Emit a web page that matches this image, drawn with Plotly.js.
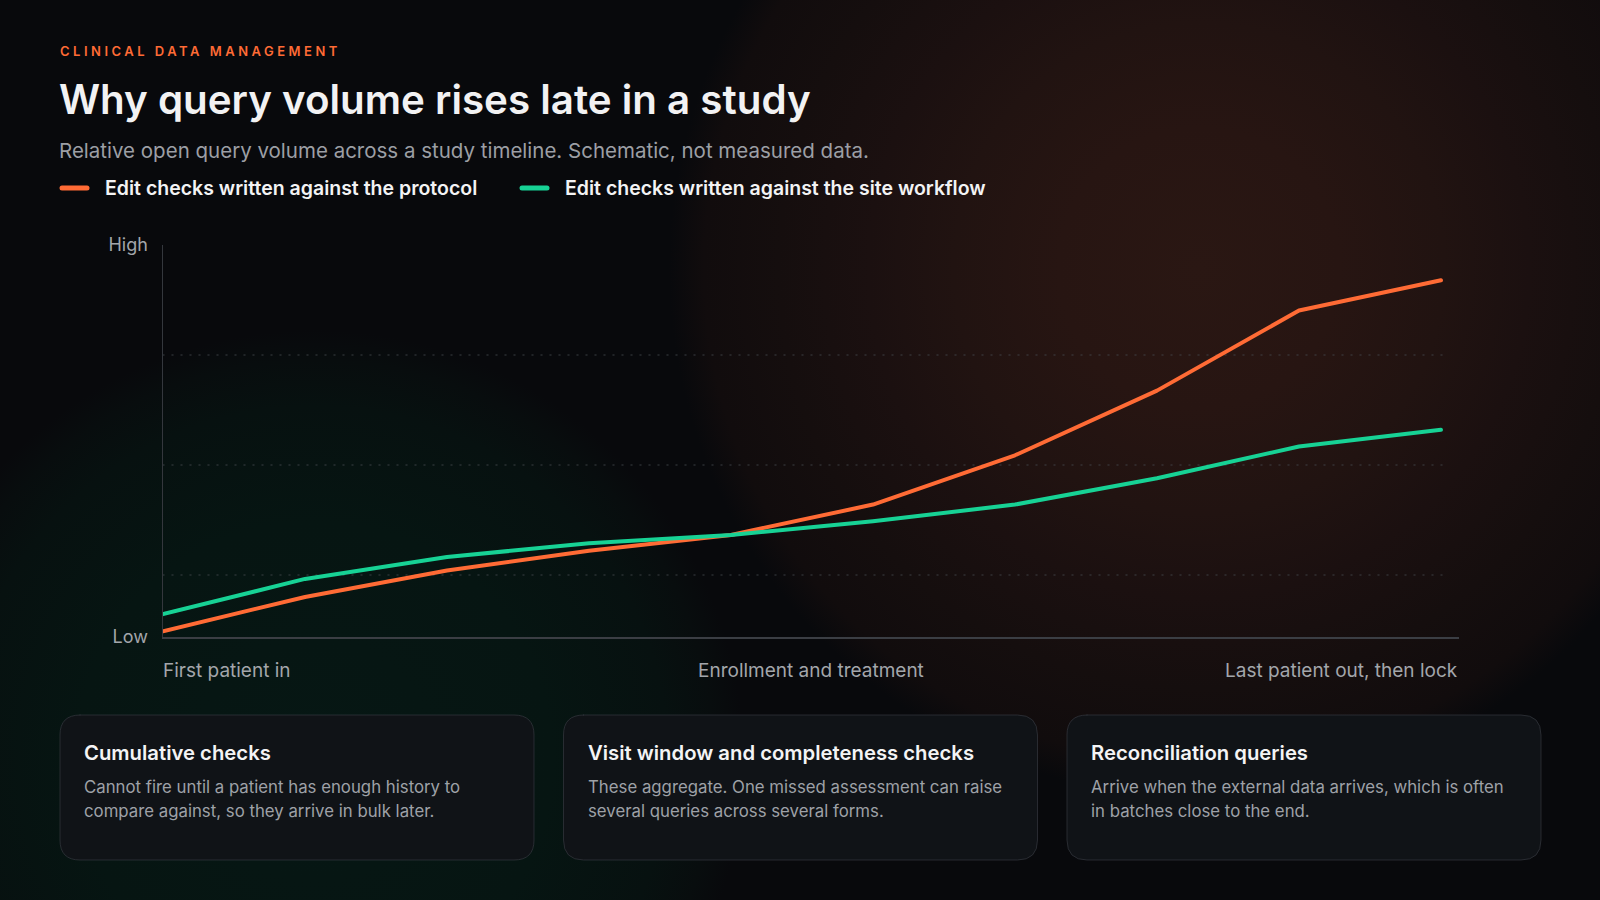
<!DOCTYPE html>
<html>
<head>
<meta charset="utf-8">
<script src="https://cdn.plot.ly/plotly-3.0.1.min.js"></script>
<style>
  html, body { margin: 0; padding: 0; background: #08090c; overflow: hidden; }
  #chart {
    width: 1600px; height: 900px;
    background:
      radial-gradient(circle at 1199px 268px,
        rgb(42,23,19) 0px, rgb(39,21,18) 140px, rgb(33,19,17) 245px,
        rgb(27,16,16) 330px, rgb(21,14,14) 420px, rgb(17,12,13) 495px, rgba(8,9,12,0) 530px),
      radial-gradient(circle at 314px 760px,
        rgb(6,23,20) 0px, rgb(6,21,18) 238px, rgb(7,17,16) 354px,
        rgb(8,13,14) 400px, rgba(8,9,12,0) 430px),
      #08090c;
  }
  .shapelayer path { stroke-linecap: round; }
  .scatterlayer path.js-line { stroke-linecap: round; stroke-linejoin: round; }
  .annotation[data-index="0"] .annotation-text { letter-spacing: 3.5px; }
</style>
</head>
<body>
<div id="chart"></div>
<script>
// ---------------- data ----------------
const stage = [0, 1, 2, 3, 4, 5, 6, 7, 8, 9];
const protocolChecks = [12.2, 20, 26, 30.5, 34.1, 41, 52.2, 66.9, 85.1, 92];
const workflowChecks = [16.1, 24.1, 29.1, 32.2, 34.1, 37.2, 41, 47, 54.2, 58];
const seriesNames = ["Edit checks written against the protocol", "Edit checks written against the site workflow"];
const seriesColors = ["#ff6b35", "#17d295"];
const yTickVals = [10.9, 100];
const yTickText = ["Low", "High"];
const gridValues = [25, 50, 75];
const xLabels = ["First patient in", "Enrollment and treatment", "Last patient out, then lock"];
const cardTitles = ["Cumulative checks", "Visit window and completeness checks", "Reconciliation queries"];
const cardLines = [
  ["Cannot fire until a patient has enough history to", "compare against, so they arrive in bulk later."],
  ["These aggregate. One missed assessment can raise", "several queries across several forms."],
  ["Arrive when the external data arrives, which is often", "in batches close to the end."]
];
const eyebrow = "CLINICAL DATA MANAGEMENT";
const titleText = "Why query volume rises late in a study";
const subtitleText = "Relative open query volume across a study timeline. Schematic, not measured data.";

// ---------------- geometry helpers (pixel -> paper) ----------------
const L = 163, R = 1459, T = 245, B = 637;
const px = v => (v - L) / (R - L);
const py = v => (B - v) / (B - T);
const FONT = "Inter, 'Noto Sans', sans-serif";

function roundRect(x0, y0, x1, y1, r) {
  const P = (x, y) => px(x).toFixed(5) + "," + py(y).toFixed(5);
  return "M" + P(x0 + r, y0) + " L" + P(x1 - r, y0) + " Q" + P(x1, y0) + " " + P(x1, y0 + r) +
    " L" + P(x1, y1 - r) + " Q" + P(x1, y1) + " " + P(x1 - r, y1) +
    " L" + P(x0 + r, y1) + " Q" + P(x0, y1) + " " + P(x0, y1 - r) +
    " L" + P(x0, y0 + r) + " Q" + P(x0, y0) + " " + P(x0 + r, y0) + " Z";
}

// ---------------- traces ----------------
const traces = [
  { x: stage, y: protocolChecks, name: seriesNames[0], type: "scatter", mode: "lines",
    line: { color: seriesColors[0], width: 4 }, hoverinfo: "skip" },
  { x: stage, y: workflowChecks, name: seriesNames[1], type: "scatter", mode: "lines",
    line: { color: seriesColors[1], width: 4 }, hoverinfo: "skip" }
];

// ---------------- shapes ----------------
const shapes = [];
gridValues.forEach(g => shapes.push({
  type: "line", xref: "x", yref: "y", x0: 0, x1: 9.06, y0: g, y1: g, layer: "below",
  line: { color: "rgba(70,72,78,0.55)", width: 1.5, dash: "1px,8px" }
}));
// legend swatches
const legendX = [60, 520];
legendX.forEach((lx, i) => shapes.push({
  type: "line", xref: "paper", yref: "paper", x0: px(lx + 2), x1: px(lx + 27), y0: py(188), y1: py(188),
  line: { color: seriesColors[i], width: 5 }
}));
// cards
const cardX = [60, 563.5, 1067], cardW = 474, cardTop = 715, cardBot = 860;
cardX.forEach(cx => shapes.push({
  type: "path", xref: "paper", yref: "paper", layer: "below",
  path: roundRect(cx, cardTop, cx + cardW, cardBot, 20),
  fillcolor: "rgba(17,20,24,0.96)", line: { color: "rgba(52,56,62,0.7)", width: 1 }
}));

// ---------------- annotations ----------------
const ann = [];
function addText(text, x, y, size, color, weight, xanchor) {
  ann.push({ text: text, xref: "paper", yref: "paper", x: px(x), y: py(y),
    xanchor: xanchor || "left", yanchor: "middle", align: xanchor || "left", showarrow: false,
    font: { family: FONT, size: size, color: color, weight: weight || 400 } });
}
addText(eyebrow, 58, 51, 13, "#ff6b35", 600);
addText(titleText, 57, 99, 40.3, "#f2f2f3", 600);
addText(subtitleText, 57, 150, 20.5, "#9c9fa5", 400);
addText(seriesNames[0], 103, 188, 19.5, "#f3f3f4", 600);
addText(seriesNames[1], 563, 188, 19.5, "#f3f3f4", 600);
// x-axis stage labels
addText(xLabels[0], 161, 670, 19, "#a3a6ab", 400, "left");
addText(xLabels[1], (L + R) / 2, 670, 19, "#a3a6ab", 400, "center");
addText(xLabels[2], R + 1, 670, 19, "#a3a6ab", 400, "right");
// cards
cardX.forEach((cx, i) => {
  addText(cardTitles[i], cx + 22, 752, 20.3, "#f4f4f5", 600);
  addText(cardLines[i][0], cx + 22, 787, 16.8, "#9ea1a7", 400);
  addText(cardLines[i][1], cx + 22, 811, 16.8, "#9ea1a7", 400);
});

// ---------------- layout ----------------
const layout = {
  width: 1600, height: 900,
  margin: { l: L, r: 1600 - R, t: T, b: 900 - B, pad: 0 },
  paper_bgcolor: "rgba(0,0,0,0)", plot_bgcolor: "rgba(0,0,0,0)",
  showlegend: false,
  font: { family: FONT, color: "#a3a6ab" },
  xaxis: { range: [0, 9.127], showgrid: false, zeroline: false, showticklabels: false,
    showline: true, linecolor: "#3b3e44", linewidth: 2, ticks: "", fixedrange: true },
  yaxis: { range: [10.9, 100], showgrid: false, zeroline: false, tickmode: "array",
    tickvals: yTickVals, ticktext: yTickText, ticks: "", ticklabelstandoff: 10,
    tickfont: { family: FONT, size: 18, color: "#a3a6ab" },
    showline: true, linecolor: "#34373d", linewidth: 1.5, fixedrange: true },
  shapes: shapes,
  annotations: ann
};

Plotly.newPlot("chart", traces, layout, { displayModeBar: false, staticPlot: true });
</script>
</body>
</html>
